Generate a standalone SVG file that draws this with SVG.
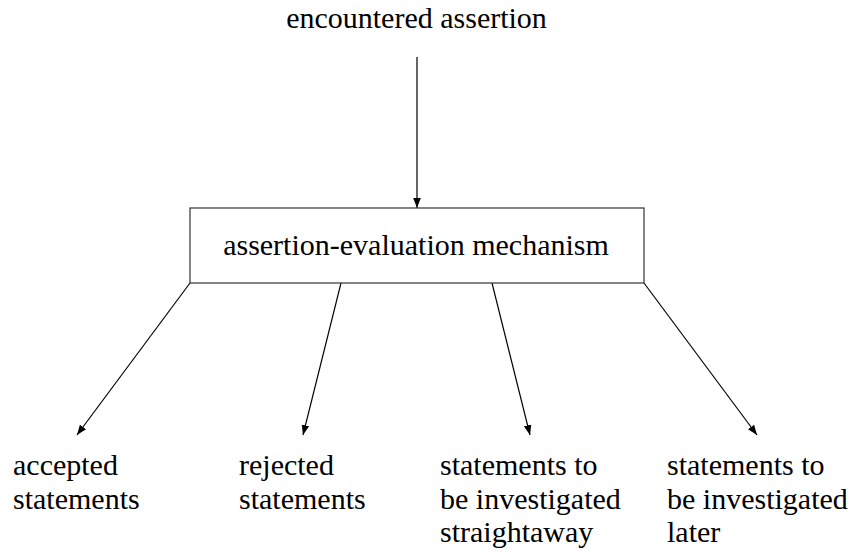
<svg xmlns="http://www.w3.org/2000/svg" width="860" height="552" viewBox="0 0 860 552">
<defs>
<marker id="ah" viewBox="0 0 10 10" refX="10" refY="5" markerWidth="10" markerHeight="10" markerUnits="userSpaceOnUse" orient="auto">
<path d="M0,1.2 L10,5 L0,8.8 z" fill="#000"/>
</marker>
</defs>
<g id="connectors" stroke="#000" stroke-width="1.2" fill="none" marker-end="url(#ah)">
<line x1="417" y1="57" x2="417" y2="208" marker-end="url(#ah)"/>
<line x1="190" y1="283" x2="77" y2="435" marker-end="url(#ah)"/>
<line x1="341" y1="283" x2="303" y2="435" marker-end="url(#ah)"/>
<line x1="492" y1="283" x2="530" y2="435" marker-end="url(#ah)"/>
<line x1="644" y1="283" x2="757" y2="435" marker-end="url(#ah)"/>
</g>
<g id="n-encountered">
<text font-family="Liberation Serif" font-size="30" x="416.5" y="28" text-anchor="middle">encountered assertion</text>
</g>
<g id="n-mechanism">
<rect x="190" y="208" width="454" height="75" fill="#fff" stroke="#333" stroke-width="1.2"/>
<text font-family="Liberation Serif" font-size="30" x="416" y="255" text-anchor="middle">assertion-evaluation mechanism</text>
</g>
<g id="n-accepted">
<text font-family="Liberation Serif" font-size="30" x="13" y="475">accepted</text>
<text font-family="Liberation Serif" font-size="30" x="13" y="509">statements</text>
</g>
<g id="n-rejected">
<text font-family="Liberation Serif" font-size="30" x="239" y="475">rejected</text>
<text font-family="Liberation Serif" font-size="30" x="239" y="509">statements</text>
</g>
<g id="n-straightaway">
<text font-family="Liberation Serif" font-size="30" x="440" y="475">statements to</text>
<text font-family="Liberation Serif" font-size="30" x="440" y="509">be investigated</text>
<text font-family="Liberation Serif" font-size="30" x="440" y="542">straightaway</text>
</g>
<g id="n-later">
<text font-family="Liberation Serif" font-size="30" x="667" y="475">statements to</text>
<text font-family="Liberation Serif" font-size="30" x="667" y="509">be investigated</text>
<text font-family="Liberation Serif" font-size="30" x="667" y="542">later</text>
</g>
</svg>
